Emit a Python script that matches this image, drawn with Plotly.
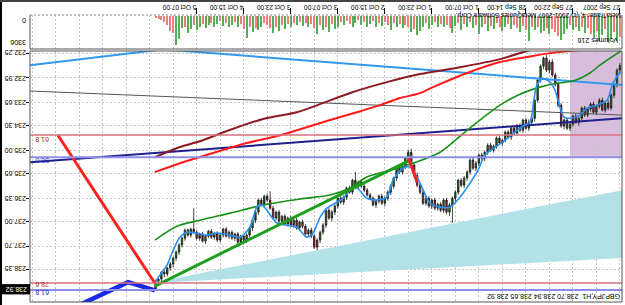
import plotly.graph_objects as go

# ---------------- data (bar index 0 = 27 Sep 2007 06:00, H1 bars) ----------------
bar_index = list(range(159))

opens = [232.60, 232.73, 233.15, 233.44, 233.80, 233.66, 233.86, 233.58, 233.75, 233.92,
         233.69, 233.83, 234.00, 233.80, 234.09, 234.20, 234.03, 234.26, 234.37, 234.14,
         234.31, 233.72, 233.13, 232.87, 232.50, 232.73, 232.39, 232.62, 233.01, 233.58,
         234.09, 234.20, 234.37, 234.14, 234.43, 234.29, 234.51, 234.37, 234.62, 234.48,
         234.71, 234.79, 234.65, 234.88, 234.99, 234.85, 235.05, 235.22, 235.13, 235.36,
         235.50, 235.27, 235.61, 235.78, 235.98, 235.84, 236.18, 236.35, 236.54, 236.74,
         236.40, 236.69, 236.52, 236.63, 236.40, 236.57, 236.35, 236.49, 236.18, 235.98,
         235.70, 235.41, 235.05, 235.22, 235.44, 235.61, 235.50, 235.78, 236.01, 236.18,
         236.35, 236.49, 236.29, 236.43, 236.54, 236.35, 236.26, 236.12, 236.01, 235.89,
         236.01, 235.84, 236.18, 236.06, 236.32, 236.46, 236.35, 236.57, 236.74, 236.91,
         236.69, 237.11, 237.31, 237.53, 237.73, 237.42, 237.25, 237.36, 237.14, 237.02,
         237.19, 236.97, 237.11, 236.91, 237.08, 236.86, 237.00, 236.74, 236.91, 236.63,
         236.40, 236.29, 236.52, 236.40, 236.74, 236.97, 237.19, 237.39, 237.53, 237.42,
         237.59, 237.36, 237.48, 237.31, 237.42, 237.22, 237.39, 237.53, 237.34, 237.45,
         237.28, 237.42, 237.56, 237.36, 237.48, 237.31, 237.22, 237.39, 237.25, 237.48,
         237.67, 237.87, 238.04, 238.21, 238.32, 238.49, 238.44, 238.63, 238.70]

closes = [232.73, 233.15, 233.44, 233.80, 233.66, 233.86, 233.58, 233.75, 233.92, 233.69,
          233.83, 234.00, 233.80, 234.09, 234.20, 234.03, 234.26, 234.37, 234.14, 234.31,
          233.72, 233.13, 232.87, 232.50, 232.73, 232.39, 232.62, 233.01, 233.58, 234.09,
          234.20, 234.37, 234.14, 234.43, 234.29, 234.51, 234.37, 234.62, 234.48, 234.71,
          234.79, 234.65, 234.88, 234.99, 234.85, 235.05, 235.22, 235.13, 235.36, 235.50,
          235.27, 235.61, 235.78, 235.98, 235.84, 236.18, 236.35, 236.54, 236.74, 236.40,
          236.69, 236.52, 236.63, 236.40, 236.57, 236.35, 236.49, 236.18, 235.98, 235.70,
          235.41, 235.05, 235.22, 235.44, 235.61, 235.50, 235.78, 236.01, 236.18, 236.35,
          236.49, 236.29, 236.43, 236.54, 236.35, 236.26, 236.12, 236.01, 235.89, 236.01,
          235.84, 236.18, 236.06, 236.32, 236.46, 236.35, 236.57, 236.74, 236.91, 236.69,
          237.11, 237.31, 237.53, 237.73, 237.42, 237.25, 237.36, 237.14, 237.02, 237.19,
          236.97, 237.11, 236.91, 237.08, 236.86, 237.00, 236.74, 236.91, 236.63, 236.40,
          236.29, 236.52, 236.40, 236.74, 236.97, 237.19, 237.39, 237.53, 237.42, 237.59,
          237.36, 237.48, 237.31, 237.42, 237.22, 237.39, 237.53, 237.34, 237.45, 237.28,
          237.42, 237.56, 237.36, 237.48, 237.31, 237.22, 237.39, 237.25, 237.48, 237.67,
          237.87, 238.04, 238.21, 238.32, 238.49, 238.44, 238.63, 238.75, 238.92]

highs = [232.85, 233.22, 233.52, 233.87, 233.86, 233.93, 233.90, 233.82, 234.00, 233.96,
         233.90, 234.06, 234.05, 234.15, 234.30, 234.25, 234.33, 234.45, 234.42, 234.40,
         234.36, 233.78, 233.20, 232.92, 232.82, 232.78, 232.70, 233.08, 233.65, 234.18,
         234.27, 234.45, 234.42, 234.50, 234.48, 234.57, 234.56, 234.70, 234.67, 234.77,
         234.88, 234.84, 234.95, 235.06, 235.04, 235.12, 235.30, 235.28, 235.44, 235.58,
         235.55, 235.68, 235.86, 236.06, 236.04, 236.25, 236.45, 237.05, 236.85, 236.80,
         236.76, 236.74, 236.70, 236.68, 236.65, 236.62, 236.56, 236.54, 236.24, 236.04,
         235.76, 235.46, 235.30, 235.52, 235.68, 235.66, 235.86, 236.08, 236.26, 236.42,
         236.58, 236.54, 236.50, 236.62, 236.58, 236.40, 236.30, 236.18, 236.05, 236.08,
         236.06, 236.25, 236.22, 236.40, 236.54, 236.52, 236.64, 236.82, 237.00, 236.96,
         237.18, 237.38, 237.62, 237.82, 237.78, 237.48, 237.44, 237.40, 237.20, 237.26,
         237.24, 237.18, 237.16, 237.15, 237.12, 237.08, 237.05, 236.98, 236.96, 236.68,
         236.46, 236.60, 236.58, 236.82, 237.05, 237.28, 237.46, 237.62, 237.60, 237.66,
         237.64, 237.55, 237.52, 237.50, 237.46, 237.46, 237.60, 237.58, 237.52, 237.50,
         237.48, 237.64, 237.60, 237.55, 237.52, 237.36, 237.46, 237.44, 237.55, 237.74,
         237.95, 238.12, 238.30, 238.40, 238.56, 238.58, 238.70, 238.82, 238.94]

lows = [232.52, 232.68, 233.10, 233.38, 233.58, 233.60, 233.50, 233.52, 233.70, 233.62,
        233.64, 233.78, 233.74, 233.76, 234.04, 233.97, 233.99, 234.20, 234.08, 234.10,
        233.66, 233.05, 232.80, 232.42, 232.44, 232.31, 232.35, 232.57, 232.96, 233.52,
        234.03, 234.12, 234.08, 234.10, 234.23, 234.25, 234.30, 234.33, 234.42, 234.44,
        234.66, 234.58, 234.60, 234.83, 234.78, 234.80, 235.00, 235.06, 235.08, 235.30,
        235.20, 235.22, 235.56, 235.72, 235.78, 235.80, 236.12, 236.30, 236.48, 236.34,
        236.35, 236.46, 236.47, 236.34, 236.36, 236.28, 236.30, 236.12, 235.92, 235.62,
        235.35, 234.95, 234.98, 235.18, 235.38, 235.44, 235.45, 235.74, 235.96, 236.12,
        236.30, 236.22, 236.24, 236.38, 236.30, 236.20, 236.06, 235.95, 235.82, 235.85,
        235.60, 235.80, 236.00, 236.02, 236.27, 236.29, 236.30, 236.52, 236.68, 236.62,
        236.64, 237.05, 237.26, 237.48, 237.36, 237.18, 237.20, 237.08, 236.95, 236.98,
        236.90, 236.92, 236.84, 236.86, 236.80, 236.82, 236.68, 236.70, 236.56, 236.15,
        236.22, 236.25, 236.34, 236.36, 236.70, 236.92, 237.14, 237.34, 237.36, 237.38,
        237.30, 237.32, 237.25, 237.26, 237.16, 237.18, 237.34, 237.28, 237.30, 237.22,
        237.24, 237.38, 237.30, 237.32, 237.25, 236.63, 237.18, 237.20, 237.20, 237.44,
        237.62, 237.82, 238.00, 238.15, 238.28, 238.38, 238.40, 238.60, 238.65]

volumes = [2400, 2900, 1800, 2600, 3000, 1500, 2200, 2800, 1700, 2500,
           2100, 1400, 1900, 1200, 1700, 1300, 1600, 1000, 1500, 2100,
           2700, 2300, 1800, 1500, 2000, 1400, 1700, 1900, 1200, 1600,
           1300, 2900, 1600, 1100, 1800, 1400, 1000, 1500, 900, 1300,
           1700, 1200, 800, 1500, 1100, 1700, 900, 1300, 2000, 1000,
           1400, 700, 1200, 900, 1600, 800, 1100, 1900, 1400, 1000,
           1300, 900, 1200, 700, 1000, 1500, 800, 1200, 1700, 2200,
           1500, 1800, 1300, 1000, 1400, 900, 1200, 800, 1600, 1000,
           700, 1100, 800, 1300, 600, 900, 1200, 700, 1000, 500,
           800, 1300, 900, 600, 1000, 700, 1200, 1500, 900, 1800,
           1200, 1600, 1000, 2000, 1400, 900, 1200, 800, 1100, 700,
           1000, 800, 1300, 900, 1500, 1000, 1700, 1200, 1900, 1400,
           1000, 800, 1200, 1600, 1400, 1800, 1300, 2500, 1500, 900,
           1200, 700, 1000, 1300, 800, 1100, 600, 900, 1200, 800,
           1000, 1400, 900, 1200, 1600, 1000, 1500, 1900, 1200, 1400,
           2600, 3300, 1900, 1700, 1000, 700, 500, 350, 216]

time_tick_index = [0, 16, 32, 48, 64, 80, 96, 112, 128, 144]
time_tick_text = ["27 Sep 2007", "27 Sep 22:00", "28 Sep 14:00", "1 Oct 07:00", "1 Oct 23:00",
                  "2 Oct 15:00", "3 Oct 07:00", "3 Oct 23:00", "4 Oct 15:00", "5 Oct 07:00"]
grid_index = [0, 8, 16, 24, 32, 40, 48, 56, 64, 72, 80, 88, 96, 104, 112, 120, 128, 136,
              144, 152, 160, 168, 176, 184, 192, 200]

price_ticks = [232.25, 232.95, 233.65, 234.30, 235.00, 235.65, 236.35, 237.00, 237.70, 238.35]
price_tick_text = ["232.25", "232.95", "233.65", "234.30", "235.00", "235.65", "236.35",
                   "237.00", "237.70", "238.35"]
volume_ticks = [0, 3306]
volume_tick_text = ["0", "3306"]
last_price = 238.92

# moving averages (bar index, price)
ma_fast_x = [158.2, 156.5, 154.1, 152.0, 149.7, 147.3, 144.6, 140.5, 137.1, 132.7, 129.3, 125.9,
             123.5, 121.8, 120.1, 116.7, 113.3, 109.9, 106.5, 104.4, 102.0, 99.7, 96.9, 94.2,
             91.8, 89.5, 86.1, 82.7, 79.3, 77.2, 73.8, 71.4, 68.0, 64.6, 61.2, 57.8, 54.4,
             51.0, 48.3, 45.9, 42.5, 39.1, 35.7, 33.0, 30.6, 29.3, 28.2, 26.2, 23.8, 22.1,
             20.4, 19.0, 17.0, 13.6, 11.2, 7.8, 4.4, 2.4, 0.0]
ma_fast_y = [238.72, 238.52, 238.24, 237.82, 237.45, 237.31, 237.33, 237.39, 237.33, 237.39,
             237.45, 237.17, 236.60, 236.54, 236.69, 237.05, 237.11, 237.17, 237.45, 237.33,
             236.88, 236.63, 236.49, 236.35, 236.12, 236.06, 236.35, 236.40, 236.32, 235.84,
             235.50, 235.47, 235.92, 236.49, 236.60, 236.60, 236.32, 235.92, 235.56, 235.13,
             234.91, 234.71, 234.48, 234.31, 234.20, 233.58, 233.15, 232.98, 233.07, 233.30,
             233.78, 234.06, 234.09, 234.00, 233.80, 233.72, 233.58, 233.10, 232.79]

ma_green_x = [158.2, 150.7, 142.9, 132.7, 121.4, 108.8, 98.6, 91.8, 86.1, 78.2, 70.4, 61.2,
              52.0, 40.8, 34.0, 27.2, 21.4, 16.0, 10.2, 6.8, -0.7]
ma_green_y = [237.53, 237.14, 236.97, 236.77, 236.54, 236.37, 236.26, 236.06, 235.75, 235.56,
              235.36, 235.05, 234.43, 233.72, 233.41, 233.21, 233.10, 233.04, 232.81, 232.59,
              232.17]

ma_red_x = [158.2, 149.7, 138.4, 126.9, 115.6, 108.8, 98.6, 89.5, 81.6, 74.8, 68.0, 63.6,
            52.0, 40.8, 31.6, 23.8, 17.0, 10.2]
ma_red_y = [235.61, 235.36, 235.07, 234.79, 234.57, 234.40, 234.14, 233.92, 233.72, 233.52,
            233.38, 233.21, 232.81, 232.50, 232.36, 232.25, 232.19, 232.14]

ma_maroon_x = [158.2, 149.7, 142.9, 133.7, 121.4, 109.9, 102.0, 90.8, 79.3, 68.0, 54.4, 40.8,
               31.6, 25.5]
ma_maroon_y = [235.19, 234.90, 234.74, 234.45, 234.11, 233.92, 233.69, 233.35, 233.07, 232.84,
               232.65, 232.42, 232.19, 232.05]

# hand-drawn objects (bar index, price)
line_blue_a_x, line_blue_a_y = [200.7, 150.0], [232.59, 232.09]
line_blue_b_x, line_blue_b_y = [160.0, -0.7], [232.115, 233.15]
line_grey_x, line_grey_y = [200.7, -0.7], [233.32, 234.00]
line_navy_x, line_navy_y = [200.7, -0.7], [235.33, 234.09]
trend_green_x, trend_green_y = [158.2, 71.4], [238.83, 235.27]
zigzag_red_x, zigzag_red_y = [191.2, 158.2], [234.57, 238.75]
zigzag_red2_x, zigzag_red2_y = [72.0, 69.0], [235.20, 235.90]
zigzag_blue_x, zigzag_blue_y = [185.4, 167.3, 158.2], [239.42, 238.72, 238.95]
channel_x = [159.9, -0.7, -0.7, 159.9]
channel_y = [238.75, 236.12, 238.04, 238.75]
zone_x0, zone_x1 = 17.0, -0.7
zone_y0, zone_y1 = 232.17, 235.19

fib_red_levels = [234.56, 238.74]
fib_red_labels = ["61.8", "78.6"]
fib_red_label_y = [234.67, 238.80]
fib_blue_levels = [235.19, 238.94]
fib_blue_labels = ["50.0", "61.8"]
fib_blue_label_y = [235.30, 239.03]

# ---------------- layout helpers ----------------
W, H = 625, 305
def pxx(x):
    return x / W
def pyy(y):
    return 1 - y / H

X_RANGE = [200.7, -0.7]
PRICE_RANGE = [239.28, 232.19]
VOL_RANGE = [3762, -114]
FONT = "Liberation Sans"
GRID = "#C4C4C4"

vol_colors = []
for k, v in enumerate(volumes):
    prev = volumes[k - 1] if k > 0 else v
    vol_colors.append("#58AE58" if v > prev else "#F07C7C")

fig = go.Figure()

fig.add_trace(go.Bar(x=bar_index, y=volumes, xaxis="x", yaxis="y", marker=dict(color=vol_colors, line=dict(width=0)),
                     width=0.4, hoverinfo="skip"))

fig.add_trace(go.Scatter(x=channel_x, y=channel_y, xaxis="x2", yaxis="y2", mode="lines", fill="toself",
                         fillcolor="#B2E1E7", line=dict(width=0, color="#B2E1E7"), hoverinfo="skip"))

def add_line(xs, ys, color, width, shape="linear"):
    fig.add_trace(go.Scatter(x=xs, y=ys, xaxis="x2", yaxis="y2", mode="lines",
                             line=dict(color=color, width=width, shape=shape, smoothing=0.8),
                             hoverinfo="skip"))

add_line(line_grey_x, line_grey_y, "#555555", 1)
add_line(line_navy_x, line_navy_y, "#1F1F8F", 2)
add_line(line_blue_a_x, line_blue_a_y, "#3399EE", 2)
add_line(line_blue_b_x, line_blue_b_y, "#3399EE", 2)
add_line(ma_maroon_x, ma_maroon_y, "#8B1A22", 2, "spline")
add_line(ma_red_x, ma_red_y, "#FF1A1A", 2, "spline")
add_line(ma_green_x, ma_green_y, "#169016", 1.6, "spline")

fig.add_trace(go.Candlestick(x=bar_index, open=opens, high=highs, low=lows, close=closes,
                             xaxis="x2", yaxis="y2", whiskerwidth=0,
                             increasing=dict(line=dict(color="#1A1A1A", width=0.8), fillcolor="#0E7A0E"),
                             decreasing=dict(line=dict(color="#1A1A1A", width=0.8), fillcolor="#B0103A"),
                             hoverinfo="skip"))

add_line(ma_fast_x, ma_fast_y, "#2A8FF0", 1.6, "spline")
add_line(trend_green_x, trend_green_y, "#1E9E1E", 3)
add_line(zigzag_red_x, zigzag_red_y, "#FF2020", 3)
add_line(zigzag_red2_x, zigzag_red2_y, "#FF2020", 3)
add_line(zigzag_blue_x, zigzag_blue_y, "#1A2AE8", 4.5)

shapes = []
# purple zone
shapes.append(dict(type="rect", xref="x2", yref="y2", x0=zone_x0, x1=zone_x1, y0=zone_y0, y1=zone_y1,
                   fillcolor="#D8BEDC", line=dict(width=0), layer="below"))
# fib levels
for lv in fib_red_levels:
    shapes.append(dict(type="line", xref="x2 domain", yref="y2", x0=0, x1=1, y0=lv, y1=lv,
                       line=dict(color="#D8707E", width=1.5), layer="above"))
for lv in fib_blue_levels:
    shapes.append(dict(type="line", xref="x2 domain", yref="y2", x0=0, x1=1, y0=lv, y1=lv,
                       line=dict(color="#8E8EEA", width=2), layer="above"))
# panel frames
shapes.append(dict(type="rect", xref="paper", yref="paper", x0=pxx(30), x1=pxx(622), y0=pyy(302), y1=pyy(51),
                   line=dict(color="#555555", width=1)))
shapes.append(dict(type="line", xref="paper", yref="paper", x0=pxx(30), x1=pxx(622), y0=pyy(49), y1=pyy(49),
                   line=dict(color="#555555", width=1)))
shapes.append(dict(type="line", xref="paper", yref="paper", x0=pxx(30), x1=pxx(622), y0=pyy(15), y1=pyy(15),
                   line=dict(color="#888888", width=1, dash="2px,2px")))
shapes.append(dict(type="line", xref="paper", yref="paper", x0=pxx(30), x1=pxx(30), y0=pyy(49), y1=pyy(15),
                   line=dict(color="#555555", width=1)))
shapes.append(dict(type="line", xref="paper", yref="paper", x0=pxx(622), x1=pxx(622), y0=pyy(49), y1=pyy(15),
                   line=dict(color="#555555", width=1)))
# window edges
shapes.append(dict(type="line", xref="paper", yref="paper", x0=pxx(1), x1=pxx(1), y0=0, y1=1,
                   line=dict(color="#000000", width=2)))
shapes.append(dict(type="line", xref="paper", yref="paper", x0=0, x1=1, y0=pyy(1), y1=pyy(1),
                   line=dict(color="#444444", width=2)))
# current price box
shapes.append(dict(type="rect", xref="paper", yref="y2", x0=pxx(2), x1=pxx(30), y0=last_price - 0.145,
                   y1=last_price + 0.145, fillcolor="#000000", line=dict(width=0)))

ann = []
def text(x, y, s, xref="paper", yref="paper", xanchor="right", size=7, color="#000000", xshift=0):
    ann.append(dict(x=x, y=y, xref=xref, yref=yref, text=s, showarrow=False, textangle=180,
                    xanchor=xanchor, yanchor="middle", xshift=xshift,
                    font=dict(family=FONT, size=size, color=color)))

for v, s in zip(price_ticks, price_tick_text):
    text(pxx(28), v, s, yref="y2")
text(pxx(28), pyy(20), volume_tick_text[0])
text(pxx(28), pyy(43), volume_tick_text[1])
for i, s in zip(time_tick_index, time_tick_text):
    text(i, pyy(7.5), s, xref="x", size=6.5, xshift=2)
for lv, s in zip(fib_red_label_y, fib_red_labels):
    text(pxx(33), lv, s, yref="y2", xanchor="left", color="#A83030")
for lv, s in zip(fib_blue_label_y, fib_blue_labels):
    text(pxx(33), lv, s, yref="y2", xanchor="left", color="#2828C8")
text(pxx(29), last_price, "238.92", yref="y2", color="#FFFFFF")
text(pxx(623), pyy(15.5), "MetaTrader 4, (c) 2001-2007 MetaQuotes Software Corp.", size=6.5)
text(pxx(620), pyy(40.5), "Volumes 216", size=7)
text(pxx(622), pyy(297), "GBPJPY,H1  238.70 238.94 238.65 238.92", size=7)

grid_common = dict(showgrid=True, gridcolor=GRID, griddash="2px,2px", gridwidth=1, zeroline=False)

fig.update_layout(
    width=W, height=H, margin=dict(l=0, r=0, t=0, b=0),
    paper_bgcolor="#FFFFFF", plot_bgcolor="#FFFFFF", showlegend=False,
    bargap=0,
    xaxis=dict(domain=[pxx(30), pxx(622)], range=X_RANGE, anchor="y", side="top",
               tickmode="array", tickvals=time_tick_index, showticklabels=False,
               ticks="outside", ticklen=6, tickcolor="#000000",
               minor=dict(tickmode="array", tickvals=grid_index, showgrid=True, gridcolor=GRID,
                          griddash="2px,2px", ticks=""),
               **grid_common),
    xaxis2=dict(domain=[pxx(30), pxx(622)], range=X_RANGE, anchor="y2", matches="x",
                tickmode="array", tickvals=time_tick_index, showticklabels=False, ticks="",
                rangeslider=dict(visible=False),
                minor=dict(tickmode="array", tickvals=grid_index, showgrid=True, gridcolor=GRID,
                           griddash="2px,2px", ticks=""),
                **grid_common),
    yaxis=dict(domain=[pyy(49), pyy(15)], range=VOL_RANGE, anchor="x", showticklabels=False,
               showgrid=False, zeroline=False, ticks=""),
    yaxis2=dict(domain=[pyy(302), pyy(51)], range=PRICE_RANGE, anchor="x2",
                tickmode="array", tickvals=price_ticks, showticklabels=False,
                ticks="outside", ticklen=3, tickcolor="#000000", **grid_common),
    shapes=shapes, annotations=ann,
)

fig.write_html("out.html")
